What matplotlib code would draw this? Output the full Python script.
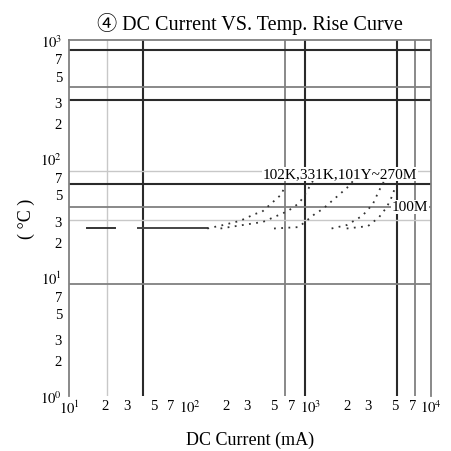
import matplotlib
matplotlib.use("Agg")
import matplotlib.pyplot as plt
from matplotlib.ticker import FixedLocator, NullLocator

plt.rcParams['font.family'] = ['Liberation Serif', 'Noto Sans CJK SC', 'DejaVu Sans']
plt.rcParams['mathtext.fontset'] = 'stix'

# ---- data ----
title = "④ DC Current VS. Temp. Rise Curve"
xlabel = "DC Current (mA)"
ylabel = "( °C )"

x_ticks = [10, 20, 30, 50, 70, 100, 200, 300, 500, 700, 1000, 2000, 3000, 5000, 7000, 10000]
x_ticklabels = ["$10^1$", "2", "3", "5", "7", "$10^2$", "2", "3", "5", "7",
                "$10^3$", "2", "3", "5", "7", "$10^4$"]
y_ticks = [1, 2, 3, 5, 7, 10, 20, 30, 50, 70, 100, 200, 300, 500, 700, 1000]
y_ticklabels = ["$10^0$", "2", "3", "5", "7", "$10^1$", "2", "3", "5", "7",
                "$10^2$", "2", "3", "5", "7", "$10^3$"]

# irregular grid lines (value, darkness)
vgrid_vals = [20.6, 41, 617, 900, 5200, 7360]
vgrid_kind = ["light", "dark", "medium", "dark", "dark", "medium"]
hgrid_vals = [824, 402, 313, 78.7, 61.2, 39.2, 30.5, 8.8]
hgrid_kind = ["dark", "medium", "dark", "light", "dark", "medium", "light", "medium"]

# common flat portion
base1_x = [14, 24]
base1_y = [25.8, 25.8]
base2_x = [37, 140]
base2_y = [25.8, 25.8]

# rising curves
c102k_x = [140, 190, 261, 348, 397, 582, 617]
c102k_y = [25.8, 27.6, 29.9, 34.2, 35.6, 50.5, 61.2]
c331k_x = [180, 276, 405, 652, 789, 868, 1050]
c331k_y = [25.8, 27.6, 29.3, 36.2, 41.5, 46.6, 64.9]
c101y_x = [500, 800, 1090, 1270, 1510, 2010, 2340]
c101y_y = [25.8, 26.5, 34.2, 37.7, 44.0, 56.7, 67.5]
c270m_x = [1500, 2010, 2700, 3300, 3700, 4100]
c270m_y = [25.8, 27.6, 33.0, 41.5, 53.5, 64.9]
c100m_x = [2000, 3000, 3700, 4300, 4700, 5000]
c100m_y = [25.8, 27.0, 32.0, 39.0, 47.0, 55.6]

label_a = "102K,331K,101Y~270M"
label_b = "100M"

# ---- plot ----
fig = plt.figure(figsize=(4.51, 4.52), dpi=100)
ax = fig.add_axes([69/451, 1 - 397/452, (431-69)/451, (397-41)/452])
ax.set_xscale('log')
ax.set_yscale('log')
ax.set_xlim(10, 10000)
ax.set_ylim(1, 1000)

styles = {"dark": ("#2a2a2a", 1.5), "medium": ("#808080", 1.3), "light": ("#c8c8c8", 1.0)}
for v, k in zip(vgrid_vals, vgrid_kind):
    c, w = styles[k]
    ax.axvline(v, color=c, lw=w, zorder=1)
for v, k in zip(hgrid_vals, hgrid_kind):
    c, w = styles[k]
    ax.axhline(v, color=c, lw=w, zorder=1)

ax.plot(base1_x, base1_y, color="#333333", lw=1.4, zorder=3)
ax.plot(base2_x, base2_y, color="#444444", lw=1.4, zorder=3)
for xs, ys in [(c102k_x, c102k_y), (c331k_x, c331k_y), (c101y_x, c101y_y),
               (c270m_x, c270m_y), (c100m_x, c100m_y)]:
    ax.plot(xs, ys, color="#333333", lw=1.3, linestyle=(0, (1, 3)), zorder=3)

ax.text(1760, 74, label_a, ha='center', va='center', fontsize=11,
        bbox=dict(facecolor='white', edgecolor='none', pad=0.5), zorder=4)
ax.text(6690, 39.2, label_b, ha='center', va='center', fontsize=11,
        bbox=dict(facecolor='white', edgecolor='none', pad=0.5), zorder=4)

ax.xaxis.set_major_locator(FixedLocator(x_ticks))
ax.xaxis.set_minor_locator(NullLocator())
ax.set_xticklabels(x_ticklabels)
ax.yaxis.set_major_locator(FixedLocator(y_ticks))
ax.yaxis.set_minor_locator(NullLocator())
ax.set_yticklabels(y_ticklabels)
ax.tick_params(axis='x', length=0, labelsize=10.5, pad=2)
ax.tick_params(axis='y', length=0, labelsize=10.5, pad=5)

for s in ['left', 'right', 'top']:
    ax.spines[s].set_color("#808080")
    ax.spines[s].set_linewidth(1.3)
ax.spines['bottom'].set_visible(False)

ax.set_title(title, fontsize=14.5, pad=8)
ax.set_xlabel(xlabel, fontsize=13, labelpad=10.5)
ax.set_ylabel(ylabel, fontsize=13, labelpad=4)

fig.savefig("out.png", dpi=100)
